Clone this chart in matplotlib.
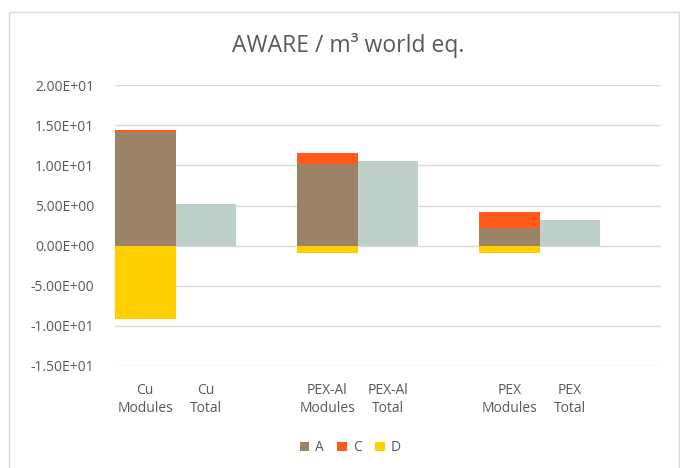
import matplotlib
matplotlib.use("Agg")
import matplotlib.pyplot as plt
from matplotlib.patches import Rectangle

plt.rcParams['font.family'] = ['Open Sans', 'DejaVu Sans']

# categories (empty slots keep the gaps between material groups)
cats = ['Cu\nModules', 'Cu\nTotal', '', 'PEX-Al\nModules', 'PEX-Al\nTotal', '',
        'PEX\nModules', 'PEX\nTotal', '']
A = [14.2, 0, 0, 10.2, 0, 0, 2.2, 0, 0]
C = [0.2, 0, 0, 1.3, 0, 0, 2.0, 0, 0]
D = [-9.1, 0, 0, -0.9, 0, 0, -0.9, 0, 0]
total = [0, 5.2, 0, 0, 10.6, 0, 0, 3.2, 0]
yticks = [-15, -10, -5, 0, 5, 10, 15, 20]

fig = plt.figure(figsize=(6.8, 4.68), dpi=100)
ax = fig.add_axes([0.169, 0.218, 0.803, 0.6])

x = list(range(len(cats)))
ax.bar(x, A, width=1.0, color='#9C8266', label='A', zorder=3)
ax.bar(x, C, width=1.0, bottom=A, color='#FF5A1A', label='C', zorder=3)
ax.bar(x, D, width=1.0, color='#FFD000', label='D', zorder=3)
ax.bar(x, total, width=1.0, color='#BFD0C9', zorder=3)

ax.set_xlim(-0.5, len(cats) - 0.5)
ax.set_ylim(-15, 20)
ax.set_yticks(yticks)
ax.set_yticklabels(['%.2E' % v for v in yticks])
ax.set_xticks(x)
ax.set_xticklabels(cats, linespacing=1.3)
ax.grid(axis='y', color='#D9D9D9', linewidth=1, zorder=0)
for s in ax.spines.values():
    s.set_visible(False)
ax.tick_params(axis='both', length=0, colors='#595959', labelsize=10)
ax.tick_params(axis='y', pad=15)
ax.tick_params(axis='x', pad=12)

fig.text(0.512, 0.903, 'AWARE / m³ world eq.', ha='center', va='center',
         fontsize=16.5, color='#595959')

fig.legend(*ax.get_legend_handles_labels(), loc='center',
           bbox_to_anchor=(0.515, 0.043), ncol=3, frameon=False,
           fontsize=10, labelcolor='#595959', handlelength=0.7, handleheight=0.7,
           handletextpad=0.4, columnspacing=1.0)

# chart frame
fig.patches.append(Rectangle((0.013, -0.01), 0.985, 0.985, transform=fig.transFigure,
                             fill=False, edgecolor='#D9D9D9', linewidth=1))

fig.savefig('out.png', dpi=100)
